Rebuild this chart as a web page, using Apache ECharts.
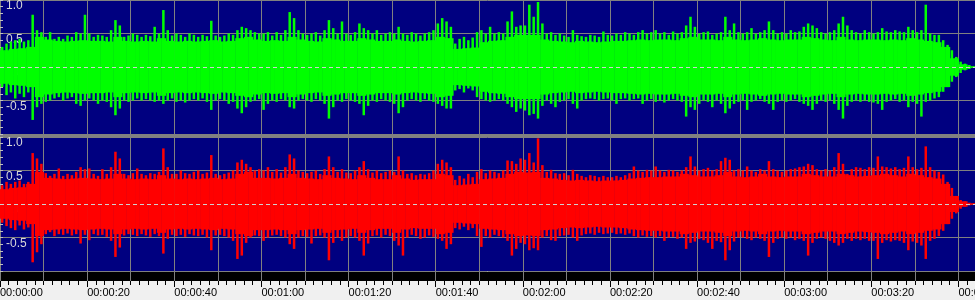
<!DOCTYPE html>
<html>
<head>
<meta charset="utf-8">
<script src="https://cdn.jsdelivr.net/npm/echarts@6/dist/echarts.min.js"></script>
<style>html,body{margin:0;padding:0;background:#f0f0f0;}#c{width:975px;height:300px;}</style>
</head>
<body>
<div id="c"></div>
<script>
// Time axis (seconds); tick label values
const durationSec = 223.8;
const timeTicks = [0, 20, 40, 60, 80, 100, 120, 140, 160, 180, 200, 220];
const ampTicks = [-1, -0.5, 0, 0.5, 1];

// Left channel (green): per-second peak envelope, upper and lower
const greenUpper = [
0.30,0.35,0.38,0.40,0.42,0.38,0.40,0.78,0.55,0.52,
0.45,0.52,0.42,0.45,0.42,0.47,0.45,0.52,0.50,0.78,
0.50,0.45,0.48,0.47,0.45,0.55,0.70,0.62,0.45,0.47,
0.50,0.48,0.45,0.48,0.46,0.60,0.50,0.85,0.55,0.47,
0.50,0.48,0.45,0.50,0.48,0.45,0.48,0.46,0.69,0.47,
0.45,0.47,0.50,0.48,0.55,0.60,0.58,0.55,0.52,0.50,
0.50,0.52,0.47,0.52,0.48,0.55,0.82,0.73,0.55,0.50,
0.48,0.50,0.52,0.47,0.55,0.70,0.58,0.50,0.68,0.50,
0.48,0.52,0.65,0.58,0.55,0.50,0.55,0.48,0.50,0.52,
0.50,0.60,0.50,0.48,0.52,0.50,0.47,0.50,0.52,0.55,
0.65,0.73,0.68,0.60,0.35,0.42,0.45,0.40,0.44,0.52,
0.55,0.50,0.60,0.50,0.52,0.50,0.68,0.83,0.60,0.62,
0.62,0.93,0.75,0.97,0.65,0.50,0.52,0.48,0.50,0.47,
0.45,0.55,0.48,0.46,0.45,0.48,0.47,0.45,0.53,0.48,
0.47,0.50,0.48,0.52,0.50,0.48,0.52,0.55,0.50,0.52,
0.55,0.50,0.52,0.48,0.53,0.50,0.52,0.62,0.75,0.60,
0.50,0.52,0.53,0.48,0.50,0.52,0.75,0.55,0.65,0.52,
0.50,0.52,0.58,0.50,0.52,0.55,0.68,0.55,0.50,0.52,
0.50,0.55,0.52,0.53,0.60,0.65,0.62,0.58,0.52,0.50,
0.52,0.55,0.65,0.75,0.62,0.55,0.52,0.50,0.55,0.52,
0.50,0.52,0.58,0.53,0.52,0.55,0.53,0.52,0.60,0.55,
0.52,0.55,0.93,0.50,0.48,0.48,0.40,0.33,0.25,0.15,
0.08,0.05,0.03,0.01];
const greenLower = [
-0.30,-0.42,-0.38,-0.47,-0.40,-0.45,-0.38,-0.79,-0.60,-0.55,
-0.52,-0.50,-0.47,-0.45,-0.50,-0.47,-0.45,-0.55,-0.58,-0.50,
-0.47,-0.50,-0.55,-0.50,-0.52,-0.60,-0.72,-0.62,-0.50,-0.52,
-0.50,-0.47,-0.50,-0.48,-0.50,-0.52,-0.50,-0.55,-0.50,-0.47,
-0.52,-0.50,-0.53,-0.50,-0.48,-0.50,-0.47,-0.52,-0.64,-0.50,
-0.48,-0.50,-0.55,-0.52,-0.62,-0.69,-0.60,-0.52,-0.50,-0.48,
-0.64,-0.55,-0.50,-0.52,-0.48,-0.50,-0.60,-0.62,-0.50,-0.48,
-0.50,-0.52,-0.48,-0.50,-0.55,-0.77,-0.60,-0.50,-0.52,-0.48,
-0.50,-0.52,-0.55,-0.72,-0.58,-0.50,-0.52,-0.48,-0.50,-0.52,
-0.55,-0.69,-0.60,-0.50,-0.48,-0.50,-0.52,-0.48,-0.50,-0.52,
-0.55,-0.58,-0.62,-0.62,-0.35,-0.33,-0.38,-0.32,-0.35,-0.45,
-0.48,-0.50,-0.52,-0.50,-0.48,-0.50,-0.55,-0.60,-0.67,-0.62,
-0.65,-0.72,-0.70,-0.77,-0.58,-0.50,-0.55,-0.60,-0.52,-0.50,
-0.48,-0.55,-0.62,-0.50,-0.48,-0.47,-0.48,-0.50,-0.48,-0.47,
-0.50,-0.55,-0.48,-0.47,-0.50,-0.48,-0.47,-0.55,-0.50,-0.48,
-0.52,-0.50,-0.53,-0.50,-0.48,-0.50,-0.52,-0.74,-0.60,-0.64,
-0.55,-0.50,-0.52,-0.60,-0.50,-0.55,-0.69,-0.62,-0.55,-0.52,
-0.50,-0.64,-0.52,-0.50,-0.48,-0.52,-0.55,-0.64,-0.52,-0.50,
-0.52,-0.50,-0.48,-0.52,-0.55,-0.58,-0.64,-0.55,-0.50,-0.52,
-0.50,-0.55,-0.64,-0.77,-0.58,-0.52,-0.50,-0.52,-0.50,-0.52,
-0.53,-0.55,-0.64,-0.52,-0.50,-0.48,-0.52,-0.50,-0.60,-0.52,
-0.55,-0.74,-0.52,-0.50,-0.47,-0.45,-0.37,-0.30,-0.22,-0.15,
-0.09,-0.05,-0.03,-0.01];
// Left channel dense body amplitude, one value per 2 seconds
const greenBody = [
0.25,0.27,0.28,0.30,0.45,0.41,0.39,0.38,0.39,0.40,
0.39,0.39,0.38,0.45,0.39,0.38,0.39,0.38,0.43,0.39,
0.38,0.39,0.38,0.39,0.40,0.38,0.39,0.43,0.45,0.41,
0.39,0.40,0.39,0.45,0.41,0.39,0.38,0.43,0.41,0.39,
0.39,0.43,0.41,0.39,0.39,0.41,0.39,0.38,0.39,0.40,
0.45,0.43,0.27,0.28,0.29,0.37,0.39,0.40,0.45,0.48,
0.48,0.48,0.41,0.39,0.38,0.37,0.39,0.38,0.37,0.38,
0.39,0.39,0.40,0.41,0.40,0.41,0.41,0.40,0.43,0.45,
0.41,0.41,0.40,0.45,0.41,0.40,0.41,0.43,0.41,0.40,
0.41,0.41,0.45,0.43,0.41,0.40,0.45,0.41,0.40,0.41,
0.41,0.40,0.41,0.40,0.43,0.41,0.39,0.37,0.30,0.13,
0.04,0.01];

// Right channel (red)
const redUpper = [
0.28,0.33,0.30,0.33,0.35,0.30,0.33,0.76,0.68,0.60,
0.46,0.42,0.45,0.53,0.42,0.45,0.43,0.48,0.55,0.52,
0.53,0.45,0.42,0.52,0.45,0.55,0.78,0.68,0.45,0.43,
0.46,0.53,0.45,0.43,0.46,0.45,0.48,0.83,0.55,0.45,
0.45,0.50,0.46,0.45,0.48,0.50,0.45,0.47,0.73,0.45,
0.43,0.45,0.47,0.50,0.62,0.66,0.60,0.55,0.50,0.52,
0.50,0.55,0.48,0.52,0.47,0.55,0.74,0.68,0.50,0.48,
0.46,0.48,0.50,0.45,0.52,0.71,0.55,0.48,0.52,0.47,
0.46,0.50,0.55,0.64,0.52,0.47,0.50,0.46,0.48,0.50,
0.48,0.71,0.50,0.45,0.46,0.43,0.45,0.44,0.46,0.50,
0.60,0.66,0.62,0.55,0.36,0.42,0.38,0.45,0.40,0.48,
0.52,0.46,0.50,0.48,0.46,0.50,0.65,0.64,0.60,0.68,
0.66,0.76,0.62,0.98,0.58,0.48,0.51,0.46,0.45,0.46,
0.43,0.51,0.45,0.42,0.40,0.43,0.42,0.40,0.42,0.40,
0.40,0.42,0.40,0.43,0.46,0.56,0.50,0.48,0.51,0.50,
0.56,0.50,0.48,0.51,0.50,0.48,0.50,0.55,0.71,0.56,
0.50,0.52,0.54,0.50,0.52,0.64,0.69,0.66,0.50,0.52,
0.50,0.56,0.50,0.48,0.52,0.50,0.64,0.52,0.50,0.48,
0.50,0.52,0.53,0.55,0.56,0.60,0.58,0.52,0.50,0.52,
0.50,0.55,0.76,0.60,0.45,0.52,0.55,0.54,0.52,0.55,
0.54,0.71,0.56,0.55,0.53,0.55,0.52,0.54,0.71,0.55,
0.52,0.54,0.86,0.55,0.50,0.48,0.44,0.33,0.24,0.12,
0.06,0.04,0.02,0.01];
const redLower = [
-0.28,-0.33,-0.36,-0.39,-0.32,-0.38,-0.35,-0.87,-0.72,-0.60,
-0.45,-0.42,-0.48,-0.45,-0.46,-0.44,-0.47,-0.45,-0.59,-0.46,
-0.54,-0.45,-0.47,-0.46,-0.49,-0.55,-0.79,-0.65,-0.47,-0.45,
-0.46,-0.48,-0.45,-0.47,-0.49,-0.45,-0.48,-0.74,-0.52,-0.46,
-0.48,-0.46,-0.49,-0.45,-0.47,-0.48,-0.46,-0.50,-0.69,-0.47,
-0.46,-0.48,-0.50,-0.55,-0.82,-0.77,-0.58,-0.50,-0.47,-0.48,
-0.55,-0.50,-0.47,-0.46,-0.48,-0.50,-0.60,-0.67,-0.50,-0.48,
-0.49,-0.59,-0.48,-0.47,-0.50,-0.84,-0.58,-0.50,-0.55,-0.50,
-0.48,-0.50,-0.55,-0.77,-0.59,-0.48,-0.47,-0.50,-0.46,-0.48,
-0.55,-0.62,-0.77,-0.50,-0.46,-0.48,-0.52,-0.50,-0.47,-0.49,
-0.52,-0.55,-0.67,-0.60,-0.36,-0.38,-0.34,-0.39,-0.36,-0.48,
-0.64,-0.48,-0.50,-0.46,-0.48,-0.50,-0.55,-0.77,-0.67,-0.58,
-0.60,-0.69,-0.66,-0.69,-0.50,-0.48,-0.54,-0.55,-0.48,-0.47,
-0.46,-0.50,-0.55,-0.47,-0.45,-0.44,-0.46,-0.43,-0.45,-0.44,
-0.43,-0.45,-0.44,-0.46,-0.44,-0.48,-0.50,-0.47,-0.49,-0.48,
-0.50,-0.48,-0.55,-0.50,-0.49,-0.52,-0.50,-0.67,-0.58,-0.56,
-0.52,-0.54,-0.58,-0.67,-0.55,-0.57,-0.84,-0.69,-0.56,-0.50,
-0.50,-0.52,-0.54,-0.50,-0.52,-0.55,-0.79,-0.58,-0.52,-0.50,
-0.52,-0.50,-0.54,-0.52,-0.55,-0.77,-0.58,-0.52,-0.50,-0.52,
-0.55,-0.58,-0.62,-0.58,-0.52,-0.55,-0.52,-0.54,-0.52,-0.55,
-0.55,-0.82,-0.58,-0.54,-0.56,-0.54,-0.55,-0.58,-0.69,-0.56,
-0.58,-0.62,-0.82,-0.55,-0.52,-0.48,-0.40,-0.30,-0.22,-0.14,
-0.07,-0.04,-0.02,-0.01];
const redBody = [
0.22,0.24,0.25,0.30,0.48,0.39,0.38,0.37,0.38,0.39,
0.38,0.37,0.38,0.45,0.38,0.37,0.38,0.37,0.43,0.38,
0.37,0.38,0.37,0.38,0.39,0.37,0.38,0.45,0.48,0.39,
0.39,0.38,0.39,0.45,0.39,0.38,0.37,0.43,0.39,0.38,
0.37,0.43,0.39,0.37,0.37,0.43,0.38,0.36,0.37,0.37,
0.45,0.43,0.28,0.29,0.30,0.37,0.38,0.39,0.45,0.48,
0.47,0.48,0.39,0.38,0.36,0.35,0.36,0.35,0.34,0.35,
0.35,0.36,0.38,0.39,0.40,0.40,0.41,0.41,0.45,0.43,
0.41,0.41,0.43,0.48,0.41,0.40,0.41,0.45,0.41,0.40,
0.41,0.41,0.45,0.43,0.41,0.41,0.45,0.43,0.41,0.42,
0.43,0.45,0.43,0.41,0.45,0.43,0.40,0.38,0.30,0.12,
0.04,0.01];

function buildRows(up, lo, body) {
  return up.map((u, i) => [i, body[Math.floor(i / 2)], u, lo[i]]);
}
function pad(n) { return (n < 10 ? '0' : '') + n; }
function fmtTime(v) {
  const s = Math.round(v);
  return pad(Math.floor(s / 3600)) + ':' + pad(Math.floor(s / 60) % 60) + ':' + pad(s % 60);
}
function makeRender(color) {
  return function (params, api) {
    const t = api.value(0), b = api.value(1), u = api.value(2), l = api.value(3);
    const bb = Math.min(b, u, -l);
    const a0 = api.coord([t, bb]);
    const a1 = api.coord([t + 1, -bb]);
    const p0 = api.coord([t + 0.5, u]);
    const p1 = api.coord([t + 0.5, l]);
    return {
      type: 'group',
      children: [
        { type: 'rect', shape: { x: a0[0], y: a0[1], width: a1[0] - a0[0] + 0.5, height: Math.max(1, a1[1] - a0[1]) }, style: { fill: color } },
        { type: 'rect', shape: { x: p0[0] - 1.25, y: p0[1], width: 2.5, height: Math.max(1, p1[1] - p0[1]) }, style: { fill: color } }
      ]
    };
  };
}

const GRID_GRAY = '#808080';
function ampAxis(gridIndex) {
  return {
    type: 'value', gridIndex, min: ampTicks[0], max: ampTicks[ampTicks.length - 1], interval: 0.5,
    axisLine: { show: false },
    axisTick: { show: true, inside: true, length: 3, lineStyle: { color: '#c0c0c0' } },
    minorTick: { show: true, splitNumber: 5, length: 3, lineStyle: { color: '#c0c0c0' } },
    splitLine: { show: true, lineStyle: { color: GRID_GRAY, width: 1 } },
    axisLabel: {
      inside: true, margin: 6, verticalAlign: 'top', color: '#d8d8d8',
      fontFamily: 'Liberation Sans, Arial, sans-serif', fontSize: 12,
      formatter: v => (v <= -1 ? '' : v.toFixed(1))
    }
  };
}
function timeGridAxis(gridIndex) {
  return {
    type: 'value', gridIndex, min: 0, max: durationSec, interval: 10,
    axisLine: { show: false }, axisTick: { show: false }, axisLabel: { show: false },
    splitLine: { show: true, lineStyle: { color: GRID_GRAY, width: 1 } }
  };
}
const zeroLine = {
  silent: true, symbol: 'none', label: { show: false },
  lineStyle: { color: '#d0d0d0', type: [4, 3], width: 1 },
  data: [{ yAxis: 0 }]
};

const chart = echarts.init(document.getElementById('c'), null, { renderer: 'canvas' });
chart.setOption({
  animation: false,
  backgroundColor: '#f0f0f0',
  graphic: [
    { type: 'rect', shape: { x: 0, y: 134, width: 975, height: 3 }, style: { fill: '#808080' }, silent: true },
    { type: 'rect', shape: { x: 0, y: 271, width: 975, height: 1 }, style: { fill: '#ffffff' }, silent: true }
  ],
  grid: [
    { left: 0, right: 0, top: 0, height: 134, show: true, backgroundColor: '#000080', borderWidth: 0, containLabel: false, outerBoundsMode: 'none' },
    { left: 0, right: 0, top: 137, height: 134, show: true, backgroundColor: '#000080', borderWidth: 0, containLabel: false, outerBoundsMode: 'none' },
    { left: 0, right: 0, top: 272, height: 9, show: true, backgroundColor: '#000000', borderWidth: 0, containLabel: false, outerBoundsMode: 'none' }
  ],
  xAxis: [
    timeGridAxis(0),
    timeGridAxis(1),
    timeGridAxis(2),
    {
      type: 'value', gridIndex: 2, min: 0, max: durationSec, interval: 20, position: 'bottom',
      axisLine: { show: false },
      axisTick: { show: true, length: 6, lineStyle: { color: '#000000' } },
      minorTick: { show: true, splitNumber: 10, length: 4, lineStyle: { color: '#000000' } },
      splitLine: { show: false },
      axisLabel: {
        show: true, margin: 6, align: 'left', color: '#000000',
        fontFamily: 'Liberation Sans, Arial, sans-serif', fontSize: 11,
        showMaxLabel: false,
        formatter: v => (timeTicks.indexOf(v) >= 0 ? fmtTime(v) : '')
      }
    }
  ],
  yAxis: [
    ampAxis(0),
    ampAxis(1),
    { type: 'value', gridIndex: 2, min: 0, max: 1, show: false, splitLine: { show: false } }
  ],
  series: [
    {
      name: 'Left', type: 'custom', xAxisIndex: 0, yAxisIndex: 0, clip: true,
      renderItem: makeRender('#00ff00'), data: buildRows(greenUpper, greenLower, greenBody),
      markLine: zeroLine, z: 2
    },
    {
      name: 'Right', type: 'custom', xAxisIndex: 1, yAxisIndex: 1, clip: true,
      renderItem: makeRender('#ff0000'), data: buildRows(redUpper, redLower, redBody),
      markLine: zeroLine, z: 2
    }
  ]
});
</script>
</body>
</html>
